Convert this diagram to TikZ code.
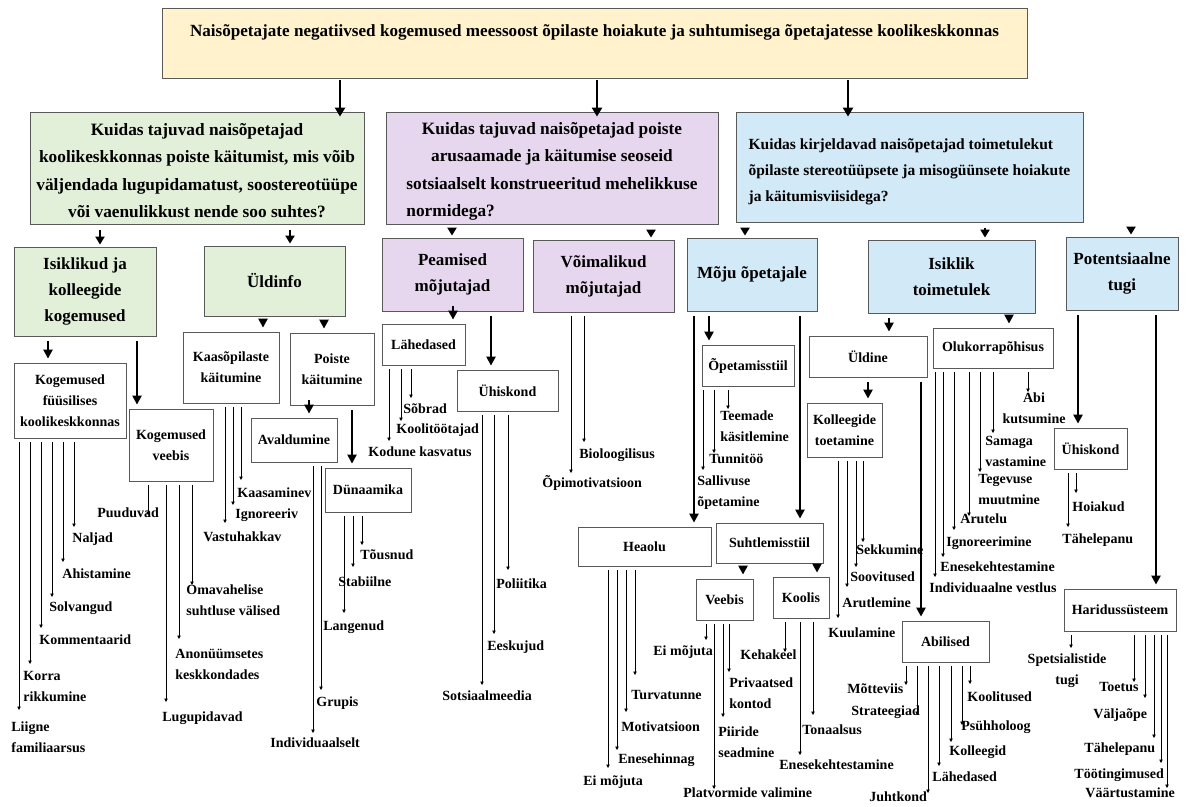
\documentclass[tikz,border=0pt]{standalone}
\usepackage{fontspec}
\setmainfont{Liberation Serif}
\usetikzlibrary{arrows.meta}
\definecolor{cyellow}{HTML}{FFF2CC}
\definecolor{cgreen}{HTML}{E2EFD9}
\definecolor{cpurple}{HTML}{E7D7EE}
\definecolor{cblue}{HTML}{D2E9F8}
\definecolor{cline}{HTML}{595959}
\tikzset{
  every picture/.style={line width=0.8pt},
  box/.style={draw=cline, fill=#1, align=center, inner sep=0pt, font=\fontsize{14}{21}\selectfont\bfseries},
  box/.default=white,
  topic/.style={box=#1, font=\fontsize{17}{26}\selectfont\bfseries},
  question/.style={box=#1, font=\fontsize{17.3}{27.5}\selectfont\bfseries},
  leaf/.style={inner sep=0pt, anchor=west, align=left, font=\fontsize{14}{21}\selectfont\bfseries},
  big arrow/.style={-{Triangle[length=9pt, width=10pt]}, line width=2.6pt, shorten <=2pt, shorten >=-5pt},
  sub arrow/.style={-{Triangle[length=8pt, width=9pt]}, line width=2.2pt, shorten <=6pt, shorten >=2pt},
  main arrow/.style={-{Triangle[length=9pt, width=9pt]}, line width=2.4pt, shorten <=5pt, shorten >=4pt},
  thin arrow/.style={-{Triangle[length=3.5pt, width=3.5pt]}, line width=0.8pt},
}
\begin{document}
\begin{tikzpicture}[x=1pt, y=-1pt]
  \useasboundingbox (0,0) rectangle (1188,806);
  \node[box=cyellow, minimum width=865pt, minimum height=70pt, font=\fontsize{17.1}{20}\selectfont\bfseries, text height=18pt, text depth=32pt] (top) at (594.5,43) {Naisõpetajate negatiivsed kogemused meessoost õpilaste hoiakute ja suhtumisega õpetajatesse koolikeskkonnas};
  % research questions
  \node[question=cgreen, minimum width=334pt, minimum height=112pt] (q1) at (197,168) {\rule{0pt}{17pt}Kuidas tajuvad naisõpetajad\\koolikeskkonnas poiste käitumist, mis võib\\väljendada lugupidamatust, soostereotüüpe\\või vaenulikkust nende soo suhtes?};
  \node[question=cpurple, minimum width=332pt, minimum height=112pt] (q2) at (552,168) {\rule{0pt}{19pt}Kuidas tajuvad naisõpetajad poiste\\arusaamade ja käitumise seoseid\\sotsiaalselt konstrueeritud mehelikkuse\\\rlap{normidega?}\phantom{sotsiaalselt konstrueeritud mehelikkuse}};
  \node[question=cblue, align=left, minimum width=347pt, minimum height=110pt, font=\fontsize{15.5}{26}\selectfont\bfseries] (q3) at (909.5,167) {\rule{0pt}{21pt}Kuidas kirjeldavad naisõpetajad toimetulekut\\õpilaste stereotüüpsete ja misogüünsete hoiakute\\ja käitumisviisidega?};
  % themes
  \node[topic=cgreen, minimum width=142pt, minimum height=89pt] (iko) at (85,291.5) {Isiklikud ja\\kolleegide\\kogemused};
  \node[topic=cgreen, minimum width=141pt, minimum height=70pt] (uld) at (274.5,281) {Üldinfo};
  \node[topic=cpurple, minimum width=141pt, minimum height=73pt] (pea) at (452.5,274.5) {Peamised\\mõjutajad};
  \node[topic=cpurple, minimum width=141pt, minimum height=72pt] (voi) at (603.5,276) {Võimalikud\\mõjutajad};
  \node[topic=cblue, minimum width=130pt, minimum height=73pt] (moj) at (752,274.5) {Mõju õpetajale};
  \node[topic=cblue, minimum width=167pt, minimum height=73pt] (ist) at (951.5,276.5) {Isiklik\\toimetulek};
  \node[topic=cblue, minimum width=112pt, minimum height=73pt] (pot) at (1122,273.5) {Potentsiaalne\\tugi};
  % subthemes
  \node[box, minimum width=112pt, minimum height=75pt] (kfk) at (70,400.5) {Kogemused\\füüsilises\\koolikeskkonnas};
  \node[box, minimum width=84pt, minimum height=72pt] (kve) at (171,445) {Kogemused\\veebis};
  \node[box, minimum width=96pt, minimum height=71pt] (kaa) at (231,367.5) {Kaasõpilaste\\käitumine};
  \node[box, minimum width=84pt, minimum height=72pt] (poi) at (332,369) {Poiste\\käitumine};
  \node[box, minimum width=86pt, minimum height=44pt] (ava) at (294,440) {Avaldumine};
  \node[box, minimum width=86pt, minimum height=44pt] (dun) at (368,490) {Dünaamika};
  \node[box, minimum width=83pt, minimum height=41pt] (lah) at (423.5,344.5) {Lähedased};
  \node[box, minimum width=101pt, minimum height=41pt] (uhi) at (507.5,390.5) {Ühiskond};
  \node[box, minimum width=92pt, minimum height=41pt] (ope) at (748,365.5) {Õpetamisstiil};
  \node[box, minimum width=133pt, minimum height=39pt] (hea) at (644.5,546.5) {Heaolu};
  \node[box, minimum width=107pt, minimum height=40pt] (suh) at (769.5,543) {Suhtlemisstiil};
  \node[box, minimum width=57pt, minimum height=41pt] (vee) at (724.5,599.5) {Veebis};
  \node[box, minimum width=56pt, minimum height=41pt] (koo) at (801,597.5) {Koolis};
  \node[box, minimum width=118pt, minimum height=41pt] (uldn) at (868,356.5) {Üldine};
  \node[box, minimum width=120pt, minimum height=40pt] (olu) at (993,348) {Olukorrapõhisus};
  \node[box, minimum width=75pt, minimum height=54pt] (kol) at (844.5,430) {Kolleegide\\toetamine};
  \node[box, minimum width=87pt, minimum height=41pt] (abi) at (945.5,641.5) {Abilised};
  \node[box, minimum width=73pt, minimum height=41pt] (uhi2) at (1090.5,448.5) {Ühiskond};
  \node[box, minimum width=112pt, minimum height=42pt] (har) at (1120,610) {Haridussüsteem};
  % box to box arrows
  \foreach \a/\b/\x in {top/q1/340, top/q2/597, top/q3/848}
    \draw[big arrow] (\a.south -| \x,0) -- (\b.north -| \x,0);
  \foreach \a/\b/\x in {q1/iko/100, q1/uld/290, q2/pea/452, q2/voi/651, q3/moj/745, q3/ist/985, q3/pot/1131}
    \draw[sub arrow] (\a.south -| \x,0) -- (\b.north -| \x,0);
  \foreach \a/\b/\x in {iko/kfk/48, iko/kve/137, uld/kaa/263, uld/poi/324, poi/ava/309, poi/dun/352,
    pea/lah/453, pea/uhi/491, moj/ope/709, moj/hea/694, moj/suh/800, suh/vee/743, suh/koo/817,
    ist/uldn/889, ist/olu/1009, uldn/kol/868, uldn/abi/921, pot/uhi2/1078, pot/har/1156}
    \draw[main arrow] (\a.south -| \x,0) -- (\b.north -| \x,0);
  % leaves
  \foreach \b/\x/\t/\n/\lx/\ly/\s in {
    kfk/74/527/naljad/72/539/Naljad, kfk/63/562/ahist/62/574/Ahistamine,
    kfk/52/597/solv/49/608/Solvangud, kfk/41/628/komm/39/640/Kommentaarid,
    kfk/30/664/korra/23/686.5/{Korra\\rikkumine}, kfk/19/710/liigne/11/737.5/{Liigne\\familiaarsus},
    kve/148/515/puud/97/513/Puuduvad, kve/192/585/omav/186/600/{Omavahelise\\suhtluse välised},
    kve/179/639/anon/175/664/{Anonüümsetes\\keskkondades}, kve/166/702/lugu/162/718/Lugupidavad,
    kaa/241/480/kaasam/237/493/Kaasaminev, kaa/233/505/ignor/235/515/Ignoreeriv,
    kaa/225/523/vastu/203/537/Vastuhakkav,
    ava/321/690/grupis/316/703/Grupis, ava/313/733/indiv/270/743/Individuaalselt,
    dun/362/545/tous/360/555/Tõusnud, dun/353/567/stab/338/582/Stabiilne, dun/344/613/lang/323/627/Langenud,
    lah/411/398/sobrad/403/409/Sõbrad, lah/401/421/koolit/396/430/Koolitöötajad,
    lah/389/441/kodune/368/452/Kodune kasvatus,
    uhi/508/570/polii/496/584/Poliitika, uhi/494/634/eesk/487/647/Eeskujud, uhi/482/685/sots/442/696/Sotsiaalmeedia,
    voi/584/442/biol/579/455/Bioloogilisus, voi/571/473/opim/542/483/Õpimotivatsioon,
    ope/728/409/teem/720/426.5/{Teemade\\käsitlemine}, ope/714/453/tunni/709/459/Tunnitöö,
    ope/703/470/salli/697/493/{Sallivuse\\õpetamine},
    hea/635/675/turva/631/695/Turvatunne, hea/626/712/motiv/621/727/Motivatsioon,
    hea/617/750/enesh/618/760/Enesehinnag, hea/608/768/eimo/583/782/Ei mõjuta,
    vee/706/640/eimo2/653/652/Ei mõjuta, vee/729/672/priv/729/693.5/{Privaatsed\\kontod},
    vee/723/717/piir/718/742.5/{Piiride\\seadmine}, vee/714/789/platv/683/793/Platvormide valimine,
    koo/785/652/keha/740/655/Kehakeel, koo/813/715/tona/802/730/Tonaalsus,
    koo/800/755/enek/779/765/Enesekehtestamine,
    kol/863/542/sekk/856/550/Sekkumine, kol/856/567/soov/850/577/Soovitused,
    kol/847/587/arutl/842/603/Arutlemine, kol/838/618/kuul/828/633/Kuulamine,
    olu/993/433/samag/985/451.5/{Samaga\\vastamine}, olu/980/472/tegev/978/489.5/{Tegevuse\\muutmine},
    olu/969/516/arute/960/519/Arutelu, olu/954/530/ignoe/946/543/Ignoreerimine,
    olu/943/557/enek2/940/567/Enesekehtestamine, olu/935/577/indv/929/588/Individuaalne vestlus,
    abi/906/685/motte/847/689/Mõtteviis, abi/917/715/strat/851/712/Strateegiad,
    abi/970/684/kooli/967/697/Koolitused, abi/962/725/psuh/961/727/Psühholoog,
    abi/951/742/kolle/949/752/Kolleegid, abi/939/766/lahe/932/777/Lähedased,
    abi/928/793/juht/869/797/Juhtkond,
    uhi2/1076/493/hoia/1072/507/Hoiakud, uhi2/1068/527/tahe/1062/540/Tähelepanu,
    har/1134/682/toet/1099/687/Toetus, har/1145/698/valj/1093/715/Väljaõpe,
    har/1154/738/tahe2/1084/749/Tähelepanu, har/1161/763/tooti/1074/775/Töötingimused,
    har/1167/788/vaar/1085/793/Väärtustamine}{
    \node[leaf] (\n) at (\lx,\ly) {\s};
    \coordinate (\n-tip) at (\x,\t);
    \draw[thin arrow] ([yshift=-4pt]\b.south -| \n-tip) -- (\n-tip);
  }
  \node[leaf, anchor=center, align=center] (abik) at (1034,408) {Abi\\kutsumine};
  \coordinate (abik-tip) at (1028,392);
  \draw[thin arrow] ([yshift=-4pt]olu.south -| abik-tip) -- (abik-tip);
  \node[leaf, anchor=center, align=center] (spets) at (1067,670.5) {Spetsialistide\\tugi};
  \coordinate (spets-tip) at (1071,648);
  \draw[thin arrow] ([yshift=-4pt]har.south -| spets-tip) -- (spets-tip);
\end{tikzpicture}
\end{document}
